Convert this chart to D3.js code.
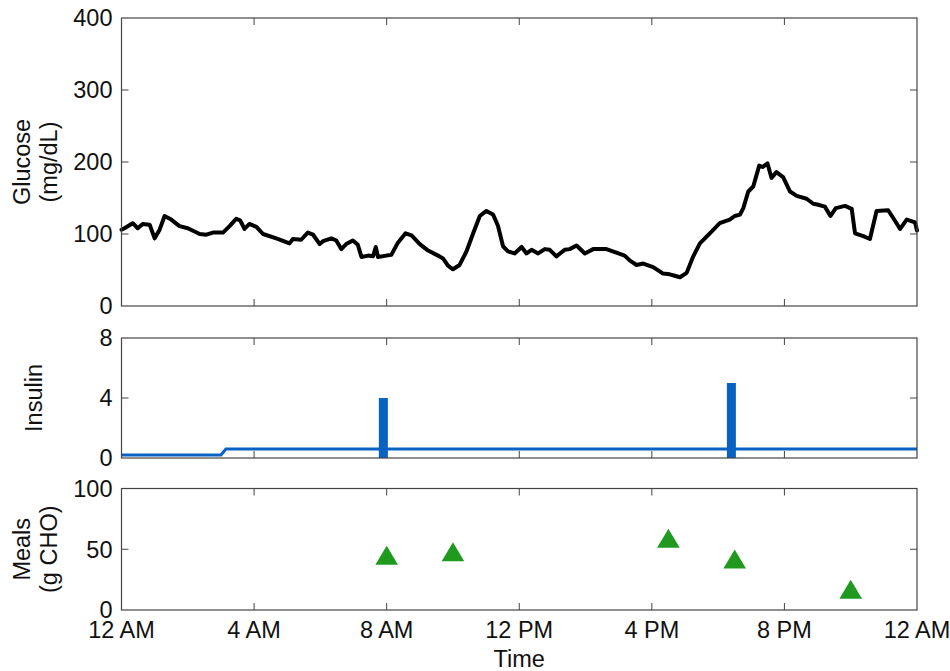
<!DOCTYPE html>
<html>
<head>
<meta charset="utf-8">
<script src="https://cdn.jsdelivr.net/npm/d3@7"></script>
<style>
  html, body { margin: 0; padding: 0; background: #fff; }
  svg text { font-family: "Liberation Sans", Arial, Helvetica, sans-serif; fill: #111; }
</style>
</head>
<body>
<svg id="chart" width="950" height="671"></svg>
<script>
// ---------------- DATA ----------------
const glucoseHours = [0.00,0.09,0.34,0.49,0.64,0.85,1.00,1.15,1.30,1.50,1.75,2.00,2.36,2.56,2.76,3.06,3.26,3.46,3.58,3.71,3.86,4.07,4.27,4.67,5.07,5.17,5.42,5.62,5.78,5.98,6.08,6.33,6.48,6.63,6.78,6.98,7.13,7.24,7.44,7.59,7.67,7.74,7.99,8.14,8.34,8.57,8.75,9.00,9.25,9.55,9.70,9.85,10.00,10.20,10.41,10.61,10.81,11.01,11.21,11.36,11.51,11.66,11.86,12.07,12.22,12.37,12.57,12.77,12.92,13.12,13.37,13.52,13.73,13.98,14.23,14.63,14.93,15.18,15.34,15.54,15.74,16.04,16.34,16.54,16.69,16.85,17.05,17.25,17.45,17.75,18.05,18.35,18.50,18.66,18.76,18.91,19.06,19.24,19.34,19.49,19.61,19.76,19.96,20.17,20.37,20.67,20.87,20.99,21.22,21.39,21.55,21.83,22.03,22.13,22.38,22.58,22.78,23.13,23.34,23.49,23.69,23.94,24.00];
const glucoseValues = [106,108,115,108,114,113,94,106,125,120,111,108,100,99,102,102,111,121,119,107,114,110,100,94,87,93,92,102,99,86,90,94,91,79,86,91,85,68,70,69,82,68,70,71,88,101,98,86,77,70,66,56,51,57,76,101,125,132,127,111,83,76,73,82,73,78,73,79,78,69,78,79,84,73,79,79,74,70,63,57,59,54,45,44,42,40,46,69,87,101,115,120,125,127,136,159,166,195,193,198,178,186,179,159,153,149,142,141,138,125,136,139,135,101,97,93,132,133,118,107,120,116,105,97,96];

const basalHours = [0, 3.0, 3.15, 24];
const basalValues = [0.2, 0.2, 0.6, 0.6];
const bolusHours = [7.9, 18.4];
const bolusValues = [4, 5];

const mealHours = [8.0, 10.0, 16.5, 18.5, 22.0];
const mealCarbs = [45, 48, 59, 42, 17];

const xTickHours = [0, 4, 8, 12, 16, 20, 24];
const xTickLabels = ["12 AM", "4 AM", "8 AM", "12 PM", "4 PM", "8 PM", "12 AM"];
const glucoseTicks = [0, 100, 200, 300, 400];
const insulinTicks = [0, 4, 8];
const mealTicks = [0, 50, 100];

// ---------------- LAYOUT ----------------
const svg = d3.select("#chart");
const left = 121.5, right = 917;
const x = d3.scaleLinear().domain([0, 24]).range([left, right]);
const FONT = 23.5;
const TICK = 7;

const panels = [
  { top: 18, bottom: 306, domain: [0, 400], ticks: glucoseTicks, labels: ["Glucose", "(mg/dL)"] },
  { top: 338, bottom: 458, domain: [0, 8], ticks: insulinTicks, labels: ["Insulin"] },
  { top: 488.5, bottom: 610, domain: [0, 100], ticks: mealTicks, labels: ["Meals", "(g CHO)"] }
];
panels.forEach(p => { p.y = d3.scaleLinear().domain(p.domain).range([p.bottom, p.top]); });

function drawFrame(p, showXLabels) {
  const g = svg.append("g");
  const tg = g.append("g").attr("stroke", "#444").attr("stroke-width", 1);
  xTickHours.forEach(h => {
    if (h === 0 || h === 24) return;
    tg.append("line").attr("x1", x(h)).attr("x2", x(h)).attr("y1", p.bottom).attr("y2", p.bottom - TICK);
    tg.append("line").attr("x1", x(h)).attr("x2", x(h)).attr("y1", p.top).attr("y2", p.top + TICK);
  });
  p.ticks.forEach(v => {
    if (v === p.domain[0] || v === p.domain[1]) return;
    tg.append("line").attr("x1", left).attr("x2", left + TICK).attr("y1", p.y(v)).attr("y2", p.y(v));
    tg.append("line").attr("x1", right).attr("x2", right - TICK).attr("y1", p.y(v)).attr("y2", p.y(v));
  });
  p.ticks.forEach(v => {
    g.append("text").attr("x", left - 9).attr("y", p.y(v)).attr("dy", "0.36em")
      .attr("text-anchor", "end").attr("font-size", FONT).text(v);
  });
  const cy = (p.top + p.bottom) / 2;
  if (p.labels.length === 2) {
    [30, 57].forEach((bx, i) => {
      g.append("text").attr("transform", `translate(${bx},${cy}) rotate(-90)`)
        .attr("text-anchor", "middle").attr("font-size", FONT).text(p.labels[i]);
    });
  } else {
    g.append("text").attr("transform", `translate(42,${cy}) rotate(-90)`)
      .attr("text-anchor", "middle").attr("font-size", FONT).text(p.labels[0]);
  }
  if (showXLabels) {
    xTickHours.forEach((h, i) => {
      g.append("text").attr("x", x(h)).attr("y", 638).attr("text-anchor", "middle")
        .attr("font-size", FONT).text(xTickLabels[i]);
    });
    g.append("text").attr("x", (left + right) / 2).attr("y", 667).attr("text-anchor", "middle")
      .attr("font-size", FONT).text("Time");
  }
  return g;
}

function drawBox(p) {
  svg.append("rect").attr("x", left).attr("y", p.top)
    .attr("width", right - left).attr("height", p.bottom - p.top)
    .attr("fill", "none").attr("stroke", "#444").attr("stroke-width", 1.2);
}

// ---------- Glucose ----------
const pg = panels[0];
drawFrame(pg, false);
const gData = glucoseHours.map((h, i) => [h, glucoseValues[i]]);
svg.append("path").datum(gData)
  .attr("d", d3.line().x(d => x(d[0])).y(d => pg.y(d[1])))
  .attr("fill", "none").attr("stroke", "#000").attr("stroke-width", 4)
  .attr("stroke-linejoin", "round").attr("stroke-linecap", "round");
drawBox(pg);

// ---------- Insulin ----------
const pi = panels[1];
drawFrame(pi, false);
const blue = "#0862c2";
const bData = basalHours.map((h, i) => [h, basalValues[i]]);
svg.append("path").datum(bData)
  .attr("d", d3.line().x(d => x(d[0])).y(d => pi.y(d[1])))
  .attr("fill", "none").attr("stroke", blue).attr("stroke-width", 3);
svg.selectAll(".bolus").data(bolusHours.map((h, i) => [h, bolusValues[i]])).enter()
  .append("rect").attr("class", "bolus")
  .attr("x", d => x(d[0]) - 4.5).attr("width", 9)
  .attr("y", d => pi.y(d[1])).attr("height", d => pi.y(0) - pi.y(d[1]))
  .attr("fill", blue);
drawBox(pi);

// ---------- Meals ----------
const pm = panels[2];
drawFrame(pm, true);
const tri = "M0,-9.5L11.3,9.5L-11.3,9.5Z";
svg.selectAll(".meal").data(mealHours.map((h, i) => [h, mealCarbs[i]])).enter()
  .append("path").attr("class", "meal")
  .attr("transform", d => `translate(${x(d[0])},${pm.y(d[1])})`)
  .attr("d", tri).attr("fill", "#1f9a1f");
drawBox(pm);
</script>
</body>
</html>
